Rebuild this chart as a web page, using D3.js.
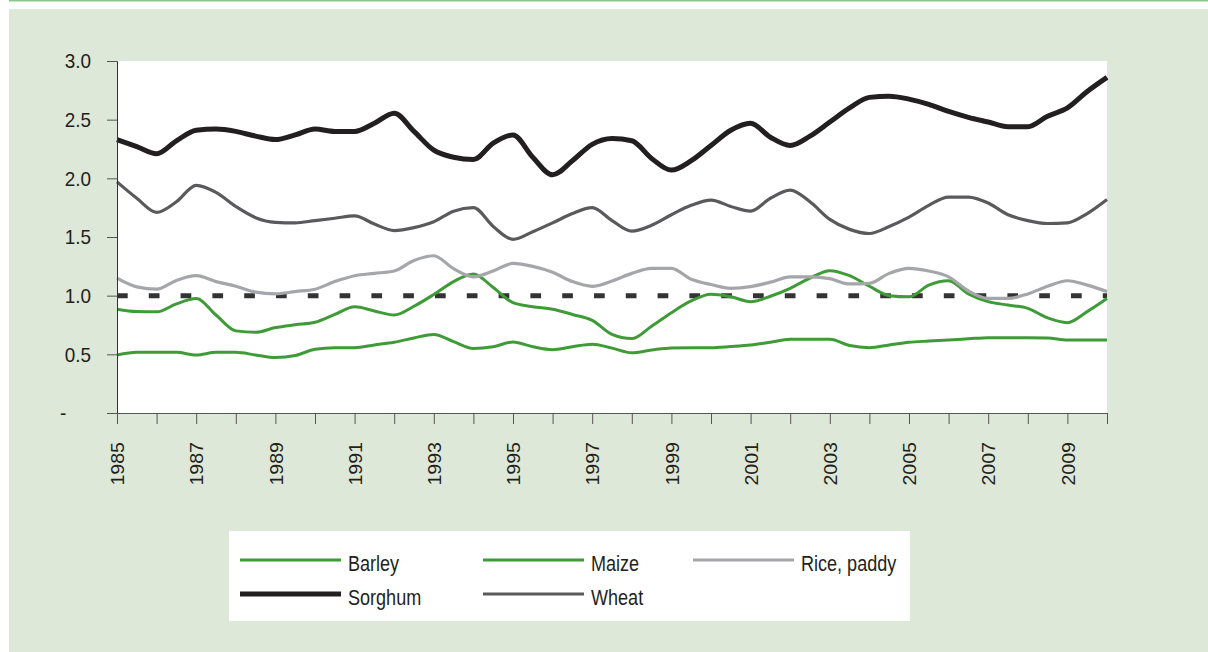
<!DOCTYPE html>
<html>
<head>
<meta charset="utf-8">
<script src="https://cdn.jsdelivr.net/npm/d3@7"></script>
<style>
  body { margin: 0; background: #fff; }
  svg text { font-family: "Liberation Sans", Arial, sans-serif; fill: #231f20; }
</style>
</head>
<body>
<script>
// half-year steps, 1985 .. 2010
const years = d3.range(0, 51).map(i => 1985 + i * 0.5);

const barley = [0.494, 0.517, 0.517, 0.517, 0.494, 0.517, 0.517, 0.495, 0.473, 0.49,
  0.543, 0.557, 0.557, 0.58, 0.603, 0.64, 0.67, 0.608, 0.55, 0.565,
  0.605, 0.565, 0.54, 0.565, 0.586, 0.553, 0.514, 0.537, 0.555, 0.557,
  0.557, 0.567, 0.58, 0.603, 0.628, 0.628, 0.628, 0.575, 0.557, 0.58,
  0.603, 0.613, 0.622, 0.632, 0.642, 0.642, 0.642, 0.64, 0.622, 0.622, 0.622];

const maize = [0.885, 0.865, 0.862, 0.93, 0.975, 0.835, 0.70, 0.688, 0.728, 0.752,
  0.773, 0.84, 0.905, 0.87, 0.835, 0.91, 1.01, 1.12, 1.185, 1.07,
  0.94, 0.906, 0.885, 0.84, 0.79, 0.67, 0.634, 0.74, 0.855, 0.955,
  1.012, 0.99, 0.949, 0.995, 1.063, 1.15, 1.213, 1.17, 1.08, 1.0,
  0.99, 1.09, 1.127, 1.015, 0.949, 0.92, 0.892, 0.81, 0.77, 0.864, 0.975];

const rice = [1.15, 1.075, 1.055, 1.13, 1.17, 1.12, 1.08, 1.03, 1.015, 1.035,
  1.055, 1.12, 1.17, 1.19, 1.21, 1.30, 1.34, 1.23, 1.16, 1.21,
  1.275, 1.25, 1.20, 1.12, 1.08, 1.125, 1.19, 1.233, 1.233, 1.14,
  1.095, 1.063, 1.077, 1.115, 1.16, 1.16, 1.145, 1.10, 1.105, 1.19,
  1.233, 1.21, 1.16, 1.04, 0.977, 0.977, 1.015, 1.08, 1.127, 1.09, 1.035];

const sorghum = [2.33, 2.27, 2.21, 2.32, 2.41, 2.42, 2.40, 2.36, 2.33, 2.37,
  2.42, 2.40, 2.40, 2.47, 2.555, 2.40, 2.24, 2.18, 2.16, 2.30,
  2.37, 2.18, 2.03, 2.15, 2.29, 2.34, 2.32, 2.17, 2.07, 2.15,
  2.28, 2.41, 2.47, 2.35, 2.28, 2.36, 2.48, 2.60, 2.69, 2.70,
  2.675, 2.63, 2.57, 2.52, 2.48, 2.44, 2.44, 2.53, 2.60, 2.74, 2.86];

const wheat = [1.97, 1.83, 1.71, 1.80, 1.94, 1.88, 1.76, 1.665, 1.625, 1.62,
  1.64, 1.66, 1.68, 1.61, 1.555, 1.58, 1.63, 1.72, 1.75, 1.59,
  1.48, 1.545, 1.62, 1.70, 1.75, 1.64, 1.55, 1.60, 1.69, 1.77,
  1.815, 1.76, 1.72, 1.83, 1.90, 1.80, 1.65, 1.565, 1.53, 1.59,
  1.67, 1.77, 1.84, 1.84, 1.79, 1.69, 1.64, 1.615, 1.62, 1.70, 1.82];

const yTicks = [0, 0.5, 1.0, 1.5, 2.0, 2.5, 3.0];
const refLevel = 1.0;

const series = [
  { name: 'Barley', values: barley, color: '#3f9b37', width: 3 },
  { name: 'Maize', values: maize, color: '#3f9b37', width: 3 },
  { name: 'Rice, paddy', values: rice, color: '#a5a6a9', width: 3.2 },
  { name: 'Sorghum', values: sorghum, color: '#231f20', width: 5 },
  { name: 'Wheat', values: wheat, color: '#5a5a5c', width: 3.2 }
];

// squeeze text horizontally, the original uses a condensed face
function condense(sel, f) {
  sel.each(function () {
    const len = this.getComputedTextLength();
    if (len > 0) {
      d3.select(this)
        .attr('textLength', len * f)
        .attr('lengthAdjust', 'spacingAndGlyphs');
    }
  });
}

const W = 1208, H = 652;
const svg = d3.select('body').append('svg')
  .attr('width', W)
  .attr('height', H);

// panel background
svg.append('rect').attr('x', 9).attr('y', 0).attr('width', W - 9).attr('height', 1.5).attr('fill', '#8cc78a');
svg.append('rect').attr('x', 9).attr('y', 9).attr('width', W - 9).attr('height', H - 9).attr('fill', '#dde8d8');

const x = d3.scaleLinear().domain([1985, 2010]).range([117, 1107]);
const y = d3.scaleLinear().domain([0, 3]).range([413, 61]);

svg.append('rect')
  .attr('x', x(1985)).attr('y', y(3))
  .attr('width', x(2010) - x(1985)).attr('height', y(0) - y(3))
  .attr('fill', '#fff');

// reference line at 1.0
svg.append('line')
  .attr('x1', x(1985)).attr('x2', x(2010))
  .attr('y1', y(refLevel)).attr('y2', y(refLevel))
  .attr('stroke', '#333')
  .attr('stroke-width', 5)
  .attr('stroke-dasharray', '10.7,21.1');

const line = d3.line()
  .x((d, i) => x(years[i]))
  .y(d => y(d))
  .curve(d3.curveMonotoneX);

svg.append('g').selectAll('path')
  .data(series)
  .enter()
  .append('path')
  .attr('d', d => line(d.values))
  .attr('fill', 'none')
  .attr('stroke', d => d.color)
  .attr('stroke-width', d => d.width)
  .attr('stroke-linejoin', 'round');

// y axis
const yAxis = d3.axisLeft(y)
  .tickValues(yTicks)
  .tickSize(10)
  .tickPadding(16)
  .tickFormat(d => d === 0 ? '-' : d.toFixed(1));
const gy = svg.append('g')
  .attr('transform', `translate(${x(1985)},0)`)
  .call(yAxis);
gy.selectAll('text').style('font-size', '21px').style('font-family', '"Liberation Sans", Arial, sans-serif');
gy.selectAll('.tick').filter(d => d === 0).select('text')
  .attr('text-anchor', 'start')
  .attr('x', -57);
gy.select('.domain').attr('stroke', '#333');
gy.selectAll('.tick line').attr('stroke', '#555');
condense(gy.selectAll('text'), 0.9);

// x axis
const xAxis = d3.axisBottom(x)
  .tickValues(d3.range(1985, 2011))
  .tickSize(11)
  .tickFormat(d => (d - 1985) % 2 === 0 && d < 2010 ? d : '');
const gx = svg.append('g')
  .attr('transform', `translate(0,${y(0)})`)
  .call(xAxis);
gx.select('.domain').attr('stroke', '#555');
gx.selectAll('.tick line').attr('stroke', '#555');
gx.selectAll('text')
  .style('font-size', '19px')
  .style('font-family', '"Liberation Sans", Arial, sans-serif')
  .attr('text-anchor', 'end')
  .attr('transform', 'rotate(-90)')
  .attr('x', -29)
  .attr('y', 0)
  .attr('dy', '0.35em');
condense(gx.selectAll('text'), 1.03);

// legend
const legend = svg.append('g').attr('id', 'legend');
legend.append('rect')
  .attr('x', 229).attr('y', 531)
  .attr('width', 681).attr('height', 90)
  .attr('fill', '#fff');

const colX = [240, 483, 693];
const rowY = [560, 594];
const items = legend.selectAll('g.item')
  .data(series)
  .enter()
  .append('g')
  .attr('class', 'item')
  .attr('transform', (d, i) => `translate(${colX[i % 3]},${rowY[Math.floor(i / 3)]})`);
items.append('line')
  .attr('x1', 0).attr('x2', 101)
  .attr('y1', 0).attr('y2', 0)
  .attr('stroke', d => d.color)
  .attr('stroke-width', d => d.width);
items.append('text')
  .attr('x', 108)
  .attr('y', 11)
  .style('font-size', '22px')
  .text(d => d.name);
condense(items.selectAll('text'), 0.82);
</script>
</body>
</html>
